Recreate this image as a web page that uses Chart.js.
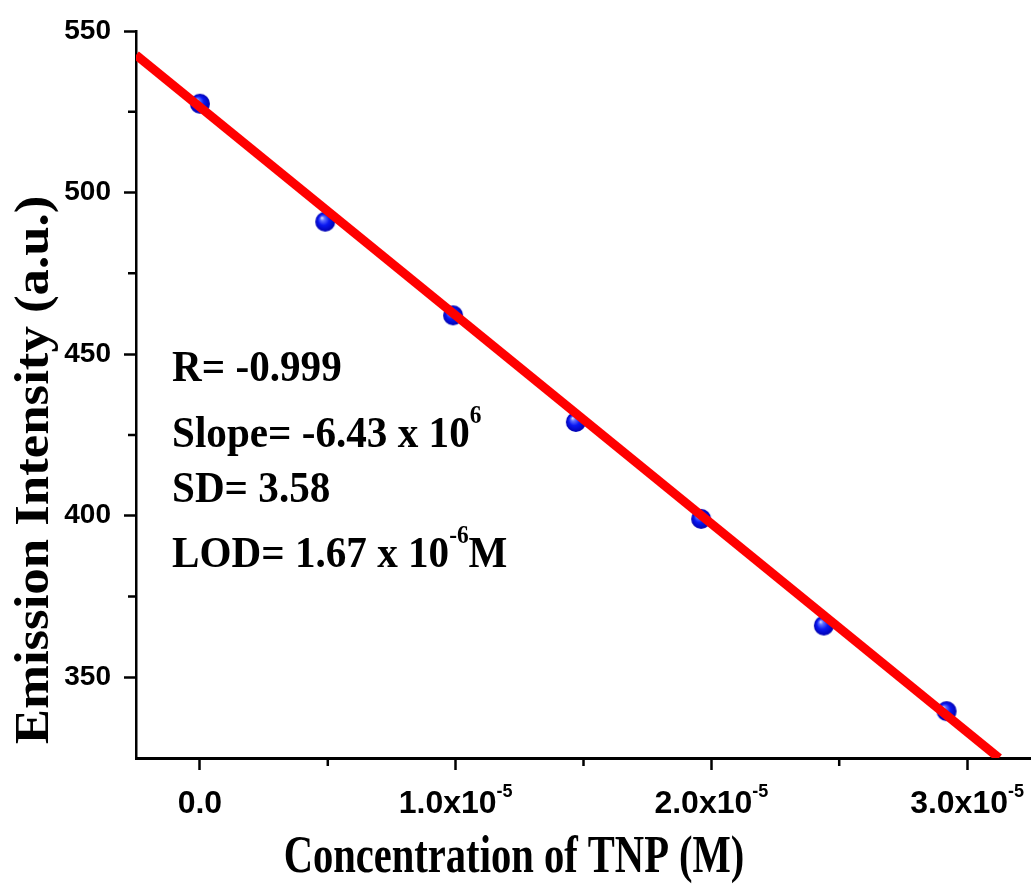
<!DOCTYPE html>
<html>
<head>
<meta charset="utf-8">
<script src="https://cdn.jsdelivr.net/npm/chart.js@4.4.0/dist/chart.umd.min.js"></script>
<style>
  html, body { margin: 0; padding: 0; background: #fff; overflow: hidden; }
  canvas { display: block; }
</style>
</head>
<body>
<canvas id="fit" width="1031" height="889"></canvas>
<script>
// TNP concentration (M) vs emission intensity (a.u.)
const concentration = [0, 0.49e-5, 0.99e-5, 1.47e-5, 1.96e-5, 2.44e-5, 2.92e-5];
const intensity = [527.5, 491, 462, 429, 399, 366, 339.5];

// linear fit, end points
const fitX = [-0.25e-5, 3.125e-5];
const fitY = [542.6, 325];

const xTicks = [0, 1e-5, 2e-5, 3e-5];
const xTickLabels = ["0.0", "1.0x10", "2.0x10", "3.0x10"];
const xTickExp = ["", "-5", "-5", "-5"];
const xMinor = [0.5e-5, 1.5e-5, 2.5e-5];
const yTicks = [350, 400, 450, 500, 550];
const yMinor = [375, 425, 475, 525];

// fit statistics, [text, superscript?]
const statLines = [
    [["R= -0.999", false]],
    [["Slope= -6.43 x 10", false], ["6", true]],
    [["SD= 3.58", false]],
    [["LOD= 1.67 x 10", false], ["-6", true], ["M", false]]
];

const SANS = '"Liberation Sans", Arial, sans-serif';
const SERIF = '"Liberation Serif", "Times New Roman", serif';

// shaded blue ball for the data points
function ballImage(r) {
    let c = document.createElement("canvas");
    c.width = c.height = r * 2 + 2;
    let g = c.getContext("2d");
    let cx = r + 1, cy = r + 1;
    let grad = g.createRadialGradient(cx - r * 0.35, cy - r * 0.4, 0, cx, cy, r);
    grad.addColorStop(0, "#eef0ff");
    grad.addColorStop(0.22, "#6070ff");
    grad.addColorStop(0.55, "#0a18f2");
    grad.addColorStop(1, "#0000b0");
    g.fillStyle = grad;
    g.beginPath();
    g.arc(cx, cy, r, 0, Math.PI * 2);
    g.fill();
    return c;
}

// text with superscripts, scaled along the text by sx
function drawRich(ctx, x, y, parts, size, supSize, rise, sx) {
    ctx.save();
    ctx.translate(x, y);
    ctx.scale(sx, 1);
    ctx.textBaseline = "alphabetic";
    ctx.textAlign = "left";
    let cur = 0;
    parts.forEach(p => {
        ctx.font = "bold " + (p[1] ? supSize : size) + "px " + SERIF;
        ctx.fillText(p[0], cur, p[1] ? -rise : 0);
        cur += ctx.measureText(p[0]).width;
    });
    ctx.restore();
}

const extras = {
    id: "extras",
    afterDraw(chart) {
        const ctx = chart.ctx;
        const x = chart.scales.x, y = chart.scales.y;
        ctx.save();
        ctx.strokeStyle = "#000";
        ctx.lineWidth = 2.5;
        ctx.beginPath();
        yMinor.forEach(v => {
            let py = y.getPixelForValue(v);
            ctx.moveTo(x.left - 8, py);
            ctx.lineTo(x.left, py);
        });
        xMinor.forEach(v => {
            let px = x.getPixelForValue(v);
            ctx.moveTo(px, y.bottom);
            ctx.lineTo(px, y.bottom + 8);
        });
        ctx.stroke();

        // x tick labels with exponent
        ctx.fillStyle = "#000";
        ctx.textBaseline = "alphabetic";
        ctx.textAlign = "left";
        xTicks.forEach((v, i) => {
            ctx.font = "bold 32px " + SANS;
            let w1 = ctx.measureText(xTickLabels[i]).width;
            ctx.font = "bold 18px " + SANS;
            let w2 = ctx.measureText(xTickExp[i]).width;
            let left = x.getPixelForValue(v) - (w1 + w2) / 2;
            ctx.font = "bold 32px " + SANS;
            ctx.fillText(xTickLabels[i], left, 813);
            ctx.font = "bold 18px " + SANS;
            ctx.fillText(xTickExp[i], left + w1, 797);
        });

        // axis titles
        ctx.font = "bold 52px " + SERIF;
        let tw = ctx.measureText("Concentration of TNP (M)").width * 0.78;
        drawRich(ctx, 514 - tw / 2, 872, [["Concentration of TNP (M)", false]], 52, 30, 0, 0.78);

        ctx.save();
        ctx.translate(48, 470);
        ctx.rotate(-Math.PI / 2);
        ctx.font = "bold 48px " + SERIF;
        let th = ctx.measureText("Emission Intensity (a.u.)").width * 1.1;
        drawRich(ctx, -th / 2, 0, [["Emission Intensity (a.u.)", false]], 48, 30, 0, 1.1);
        ctx.restore();

        // fit statistics
        const base = [381, 447, 502, 567];
        statLines.forEach((parts, i) => {
            drawRich(ctx, 172, base[i], parts, 44, 25, 24, 0.935);
        });
        ctx.restore();
    }
};

const ball = ballImage(10);
const ctx = document.getElementById("fit").getContext("2d");

new Chart(ctx, {
    type: "scatter",
    data: {
        datasets: [{
            label: "fit",
            data: fitX.map((v, i) => ({ x: v, y: fitY[i] })),
            showLine: true,
            borderColor: "#ff0000",
            borderWidth: 9,
            pointRadius: 0,
            order: 0
        }, {
            label: "data",
            data: concentration.map((v, i) => ({ x: v, y: intensity[i] })),
            pointStyle: ball,
            pointRadius: 10,
            order: 1
        }]
    },
    options: {
        responsive: false,
        animation: false,
        layout: { autoPadding: false, padding: { top: 31, right: 0, left: 0, bottom: 0 } },
        plugins: { legend: { display: false }, tooltip: { enabled: false } },
        scales: {
            x: {
                type: "linear",
                min: -0.25e-5,
                max: 3.25e-5,
                afterBuildTicks: s => { s.ticks = xTicks.map(v => ({ value: v })); },
                afterFit: s => { s.height = 131; },
                ticks: { display: false },
                grid: { drawOnChartArea: false, tickLength: 12, tickWidth: 2.5, tickColor: "#000" },
                border: { display: true, color: "#000", width: 3 }
            },
            y: {
                min: 325,
                max: 550,
                afterBuildTicks: s => { s.ticks = yTicks.map(v => ({ value: v })); },
                afterFit: s => { s.width = 136; },
                ticks: { color: "#000", padding: 13, font: { family: SANS, weight: "bold", size: 28 } },
                grid: { drawOnChartArea: false, tickLength: 12, tickWidth: 2.5, tickColor: "#000" },
                border: { display: true, color: "#000", width: 2.5 }
            }
        }
    },
    plugins: [extras]
});
</script>
</body>
</html>
